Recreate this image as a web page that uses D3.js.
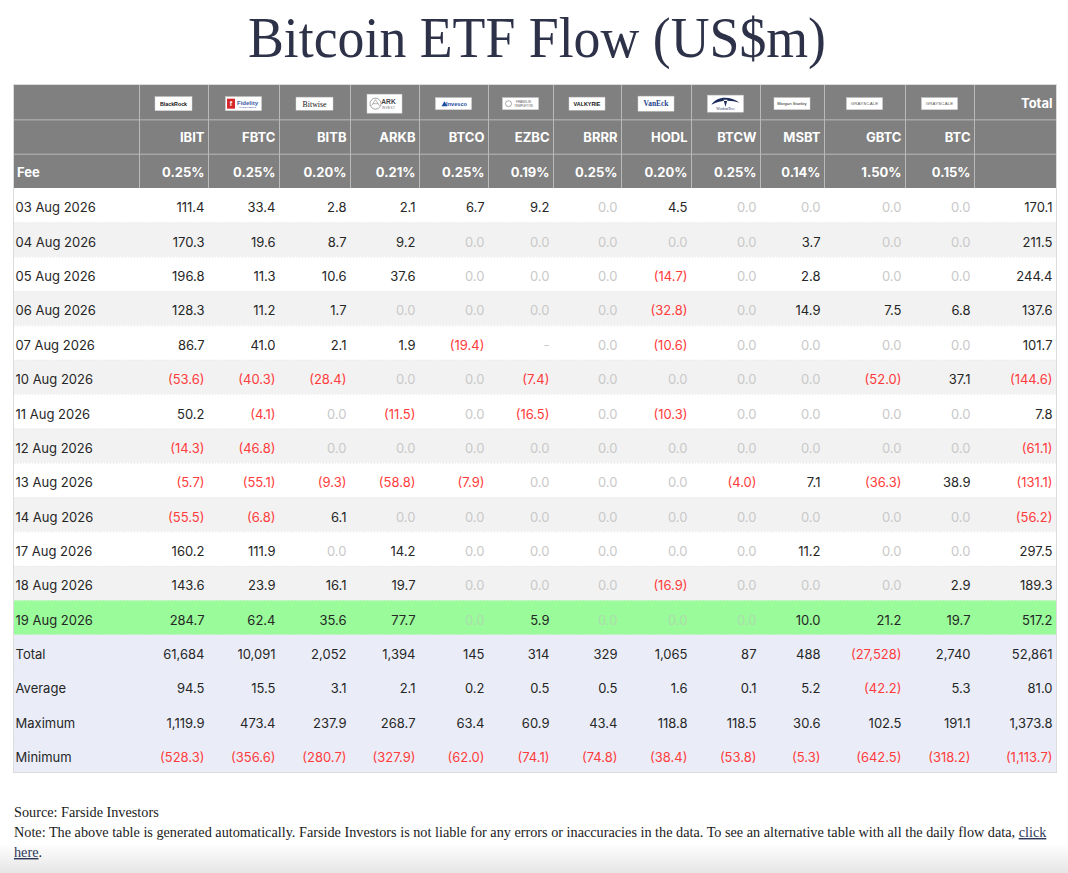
<!DOCTYPE html>
<html>
<head>
<meta charset="utf-8">
<script src="https://cdn.jsdelivr.net/npm/d3@7"></script>
<style>
  body { margin: 0; background: #fff; }
  svg { display: block; }
</style>
</head>
<body>
<svg id="chart" width="1068" height="873"></svg>
<script>
const tickers = ["IBIT", "FBTC", "BITB", "ARKB", "BTCO", "EZBC", "BRRR", "HODL", "BTCW", "MSBT", "GBTC", "BTC"];
const issuers = ["BlackRock", "Fidelity", "Bitwise", "ARK Invest", "Invesco", "Franklin Templeton",
                 "Valkyrie", "VanEck", "WisdomTree", "Morgan Stanley", "Grayscale", "Grayscale"];
const fees = ["0.25%", "0.25%", "0.20%", "0.21%", "0.25%", "0.19%", "0.25%", "0.20%", "0.25%", "0.14%", "1.50%", "0.15%"];

const dates = ["03 Aug 2026", "04 Aug 2026", "05 Aug 2026", "06 Aug 2026", "07 Aug 2026", "10 Aug 2026",
               "11 Aug 2026", "12 Aug 2026", "13 Aug 2026", "14 Aug 2026", "17 Aug 2026", "18 Aug 2026", "19 Aug 2026"];

// one row per date, one value per ticker; null = no figure ("-")
const flows = [
  [111.4, 33.4, 2.8, 2.1, 6.7, 9.2, 0, 4.5, 0, 0, 0, 0],
  [170.3, 19.6, 8.7, 9.2, 0, 0, 0, 0, 0, 3.7, 0, 0],
  [196.8, 11.3, 10.6, 37.6, 0, 0, 0, -14.7, 0, 2.8, 0, 0],
  [128.3, 11.2, 1.7, 0, 0, 0, 0, -32.8, 0, 14.9, 7.5, 6.8],
  [86.7, 41.0, 2.1, 1.9, -19.4, null, 0, -10.6, 0, 0, 0, 0],
  [-53.6, -40.3, -28.4, 0, 0, -7.4, 0, 0, 0, 0, -52.0, 37.1],
  [50.2, -4.1, 0, -11.5, 0, -16.5, 0, -10.3, 0, 0, 0, 0],
  [-14.3, -46.8, 0, 0, 0, 0, 0, 0, 0, 0, 0, 0],
  [-5.7, -55.1, -9.3, -58.8, -7.9, 0, 0, 0, -4.0, 7.1, -36.3, 38.9],
  [-55.5, -6.8, 6.1, 0, 0, 0, 0, 0, 0, 0, 0, 0],
  [160.2, 111.9, 0, 14.2, 0, 0, 0, 0, 0, 11.2, 0, 0],
  [143.6, 23.9, 16.1, 19.7, 0, 0, 0, -16.9, 0, 0, 0, 2.9],
  [284.7, 62.4, 35.6, 77.7, 0, 5.9, 0, 0, 0, 10.0, 21.2, 19.7]
];
const dailyTotals = [170.1, 211.5, 244.4, 137.6, 101.7, -144.6, 7.8, -61.1, -131.1, -56.2, 297.5, 189.3, 517.2];
const highlightDate = "19 Aug 2026";

// summary rows, last value is the Total column
const summaryLabels = ["Total", "Average", "Maximum", "Minimum"];
const totalRow   = [61684, 10091, 2052, 1394, 145, 314, 329, 1065, 87, 488, -27528, 2740, 52861];
const averageRow = [94.5, 15.5, 3.1, 2.1, 0.2, 0.5, 0.5, 1.6, 0.1, 5.2, -42.2, 5.3, 81.0];
const maximumRow = [1119.9, 473.4, 237.9, 268.7, 63.4, 60.9, 43.4, 118.8, 118.5, 30.6, 102.5, 191.1, 1373.8];
const minimumRow = [-528.3, -356.6, -280.7, -327.9, -62.0, -74.1, -74.8, -38.4, -53.8, -5.3, -642.5, -318.2, -1113.7];

// ---- layout ----
const W = 1068;
const tableLeft = 14, tableTop = 85, tableBottom = 772;
const colWidths = [125, 69, 71, 71, 69, 69, 65, 68, 70, 69, 64, 81, 69, 82];
const colKeys = ["label", ...tickers, "Total"];
const lefts = colWidths.map((w, i) => tableLeft + d3.sum(colWidths.slice(0, i)));
const xLeft = d3.scaleOrdinal(colKeys, lefts);
const xWidth = d3.scaleOrdinal(colKeys, colWidths);
const xRight = k => xLeft(k) + xWidth(k);
const tableRight = xRight("Total");

const rowKeys = ["logo", "ticker", "fee", ...dates, ...summaryLabels.map(s => "sum:" + s)];
const y = d3.scaleBand(rowKeys, [tableTop, tableBottom]);
const yMid = k => y(k) + y.bandwidth() / 2;

const FONT = "Inter, 'Helvetica Neue', Arial, sans-serif";
const HEAD_BG = "#808080", HEAD_LINE = "#b9b9b9";
const DARK = "#262626", ZERO = "#c9c9c9", ZERO_HI = "#aedcae", RED = "#ff3b3b";

const fmt1 = d3.format(",.1f"), fmt0 = d3.format(",.0f");
const cellText = (v, f) => v == null ? "-" : (v < 0 ? `(${f(-v)})` : f(v));
const cellColor = (v, hi) => (v == null || v === 0) ? (hi ? ZERO_HI : ZERO) : (v < 0 ? RED : DARK);

const svg = d3.select("#chart");

// ---- title ----
svg.append("text")
  .attr("x", 248).attr("y", 57)
  .attr("font-family", "'Liberation Serif', 'Times New Roman', serif")
  .attr("font-size", 57)
  .attr("textLength", 578).attr("lengthAdjust", "spacingAndGlyphs")
  .attr("fill", "#2e3249")
  .text("Bitcoin ETF Flow (US$m)");

// ---- row backgrounds ----
const dataRows = dates.map((d, i) => ({
  key: d, label: d, values: [...flows[i], dailyTotals[i]], fmt: fmt1,
  bg: d === highlightDate ? "#99fb99" : (i % 2 === 0 ? "#ffffff" : "#f2f2f2"),
  hi: d === highlightDate
}));
const sumRows = [totalRow, averageRow, maximumRow, minimumRow].map((vals, i) => ({
  key: "sum:" + summaryLabels[i], label: summaryLabels[i], values: vals,
  fmt: i === 0 ? fmt0 : fmt1, bg: "#eaedf8", hi: false
}));
const bodyRows = [...dataRows, ...sumRows];

svg.append("rect")
  .attr("x", tableLeft).attr("y", y("logo"))
  .attr("width", tableRight - tableLeft).attr("height", y.bandwidth() * 3)
  .attr("fill", HEAD_BG);

svg.append("g").selectAll("rect")
  .data(bodyRows)
  .join("rect")
  .attr("x", tableLeft).attr("y", d => y(d.key))
  .attr("width", tableRight - tableLeft).attr("height", y.bandwidth() + 0.5)
  .attr("fill", d => d.bg);

// header grid lines
const grid = svg.append("g").attr("stroke", HEAD_LINE).attr("stroke-width", 1);
grid.selectAll("line.v")
  .data(colKeys.slice(1))
  .join("line").attr("class", "v")
  .attr("x1", d => xLeft(d) + 0.5).attr("x2", d => xLeft(d) + 0.5)
  .attr("y1", y("logo")).attr("y2", y("fee") + y.bandwidth());
grid.selectAll("line.h")
  .data(["ticker", "fee"])
  .join("line").attr("class", "h")
  .attr("x1", tableLeft).attr("x2", tableRight)
  .attr("y1", d => y(d) + 0.5).attr("y2", d => y(d) + 0.5);

// faint separators between body rows
svg.append("g").selectAll("line")
  .data(bodyRows.slice(1))
  .join("line")
  .attr("x1", tableLeft).attr("x2", tableRight)
  .attr("y1", d => y(d.key) + 0.5).attr("y2", d => y(d.key) + 0.5)
  .attr("stroke", "#e9e9e9").attr("stroke-dasharray", "1,2");

// outer border
svg.append("rect")
  .attr("x", tableLeft - 0.5).attr("y", tableTop - 0.5)
  .attr("width", tableRight - tableLeft + 1).attr("height", tableBottom - tableTop + 1)
  .attr("fill", "none").attr("stroke", "#dcdcdc");

// ---- header text ----
const head = svg.append("g")
  .attr("font-family", FONT).attr("font-size", 13).attr("font-weight", 700).attr("fill", "#fff");

head.selectAll("text.tk")
  .data(tickers)
  .join("text").attr("class", "tk")
  .attr("x", d => xRight(d) - 3.5).attr("y", yMid("ticker") + 1)
  .attr("dy", "0.36em").attr("text-anchor", "end")
  .text(d => d);

head.selectAll("text.fee")
  .data(fees)
  .join("text").attr("class", "fee")
  .attr("x", (d, i) => xRight(tickers[i]) - 3.5).attr("y", yMid("fee") + 1)
  .attr("dy", "0.36em").attr("text-anchor", "end")
  .text(d => d);

head.append("text")
  .attr("x", xLeft("label") + 3).attr("y", yMid("fee") + 1).attr("dy", "0.36em")
  .text("Fee");

head.append("text")
  .attr("x", xRight("Total") - 3.5).attr("y", yMid("logo") + 1.5).attr("dy", "0.36em")
  .attr("text-anchor", "end")
  .text("Total");

// ---- issuer logos (simplified badges) ----
function box(g, w, h) {
  g.append("rect").attr("x", -w / 2).attr("y", -h / 2).attr("width", w).attr("height", h)
    .attr("fill", "#fff").attr("stroke", "#d0d0d0").attr("stroke-width", 0.5);
}
function word(g, s, x, yy, o) {
  return g.append("text").attr("x", x).attr("y", yy).attr("dy", "0.35em")
    .attr("text-anchor", o.anchor || "middle")
    .attr("font-family", o.family || "Arial, sans-serif")
    .attr("font-size", o.size).attr("font-weight", o.weight || 400)
    .attr("letter-spacing", o.ls || 0)
    .attr("fill", o.fill || "#111").text(s);
}
const logoDraw = {
  "BlackRock": g => { box(g, 37, 14); word(g, "BlackRock", 0, 0, { size: 5.3, weight: 700 }); },
  "Fidelity": g => {
    box(g, 36, 14);
    g.append("rect").attr("x", -16.5).attr("y", -5).attr("width", 8).attr("height", 10).attr("fill", "#d4282c");
    word(g, "f", -12.5, 0, { size: 7, weight: 700, fill: "#fff" });
    word(g, "Fidelity", 4, -1.2, { size: 6, weight: 700, fill: "#3a5aa6" });
    word(g, "INVESTMENTS", 4, 3.6, { size: 2.4, fill: "#3a5aa6" });
  },
  "Bitwise": g => { box(g, 37, 13); word(g, "Bitwise", 0, 0.3, { size: 7.8, family: "'Liberation Serif', serif" }); },
  "ARK Invest": g => {
    box(g, 35, 19);
    g.append("circle").attr("cx", -9).attr("cy", 0).attr("r", 5.5).attr("fill", "none").attr("stroke", "#666").attr("stroke-width", 0.6);
    g.append("path").attr("d", "M-13,2 L-9,-4 L-5,2 M-11.5,0 L-6.5,0").attr("fill", "none").attr("stroke", "#666").attr("stroke-width", 0.5);
    word(g, "ARK", 4, -2, { size: 6.6, weight: 700, fill: "#444" });
    word(g, "INVEST", 4, 3.8, { size: 3, ls: 0.4, fill: "#666" });
  },
  "Invesco": g => {
    box(g, 36, 12);
    g.append("path").attr("d", "M-12,2.5 L-9,-2.5 L-6,2.5 Z").attr("fill", "#1a4ea0");
    word(g, "Invesco", 3, 0, { size: 5.6, weight: 700, fill: "#1a4ea0" });
  },
  "Franklin Templeton": g => {
    box(g, 36, 12);
    g.append("circle").attr("cx", -12).attr("cy", 0).attr("r", 3).attr("fill", "none").attr("stroke", "#555").attr("stroke-width", 0.5);
    word(g, "FRANKLIN", 3, -1.7, { size: 3, fill: "#555" });
    word(g, "TEMPLETON", 3, 1.9, { size: 3, fill: "#555" });
  },
  "Valkyrie": g => { box(g, 36, 13); word(g, "VALKYRIE", 0, 0, { size: 5.4, weight: 700, fill: "#111" }); },
  "VanEck": g => { box(g, 36, 15); word(g, "VanEck", 0, 0, { size: 7.4, weight: 700, family: "'Liberation Serif', serif", fill: "#1d3f8e" }); },
  "WisdomTree": g => {
    box(g, 36, 17);
    g.append("path").attr("d", "M-14,1 C-9,-8 5,-8 14,-1 C6,-4 -6,-4 -14,1 Z M-2,-4 L0,3 L2,-4 Z")
      .attr("fill", "#1c2a5a");
    word(g, "WisdomTree", 0, 5.2, { size: 3.6, family: "'Liberation Serif', serif", fill: "#1c2a5a" });
  },
  "Morgan Stanley": g => { box(g, 36, 12); word(g, "Morgan Stanley", 0, 0, { size: 4.2, fill: "#222" }); },
  "Grayscale": g => { box(g, 36, 12); word(g, "GRAYSCALE", 0, 0, { size: 4.3, ls: 0.2, fill: "#555" }); }
};

svg.append("g").selectAll("g")
  .data(tickers)
  .join("g")
  .attr("transform", d => `translate(${xLeft(d) + xWidth(d) / 2},${yMid("logo") + 1.5})`)
  .each(function (d, i) { logoDraw[issuers[i]](d3.select(this)); });

// ---- body text ----
const body = svg.append("g").attr("font-family", FONT).attr("font-size", 13);

const rowG = body.selectAll("g.row")
  .data(bodyRows)
  .join("g").attr("class", "row")
  .attr("transform", d => `translate(0,${yMid(d.key) + 2.5})`);

rowG.append("text")
  .attr("x", xLeft("label") + 1.5).attr("dy", "0.36em")
  .attr("fill", DARK)
  .text(d => d.label);

rowG.selectAll("text.v")
  .data(d => d.values.map((v, i) => ({ v, col: colKeys[i + 1], fmt: d.fmt, hi: d.hi })))
  .join("text").attr("class", "v")
  .attr("x", c => xRight(c.col) - 3.5).attr("dy", "0.36em")
  .attr("text-anchor", "end")
  .attr("fill", c => cellColor(c.v, c.hi))
  .text(c => cellText(c.v, c.fmt));

// ---- footer ----
const foot = svg.append("g")
  .attr("font-family", "'Liberation Serif', 'Times New Roman', serif")
  .attr("font-size", 14).attr("fill", "#1a1a1a");

foot.append("text").attr("x", 14).attr("y", 817).text("Source: Farside Investors");

const note = foot.append("text").attr("x", 14).attr("y", 837);
note.append("tspan").text("Note: The above table is generated automatically. Farside Investors is not liable for any errors or inaccuracies in the data. To see an alternative table with all the daily flow data, ");
note.append("tspan").attr("fill", "#2e3a5c").style("text-decoration", "underline").text("click");
// squeeze the line to the width the reference uses
const natural = note.node().getComputedTextLength();
const fitSize = 14 * (1047 - 14) / natural;
foot.attr("font-size", fitSize);

const here = foot.append("text").attr("x", 14).attr("y", 857);
here.append("tspan").attr("fill", "#2e3a5c").style("text-decoration", "underline").text("here");
here.append("tspan").text(".");

// soft shade at the bottom edge
const grad = svg.append("defs").append("linearGradient")
  .attr("id", "shade").attr("x1", 0).attr("x2", 0).attr("y1", 0).attr("y2", 1);
grad.append("stop").attr("offset", 0).attr("stop-color", "#000").attr("stop-opacity", 0);
grad.append("stop").attr("offset", 1).attr("stop-color", "#000").attr("stop-opacity", 0.1);
svg.append("rect").attr("x", 0).attr("y", 843).attr("width", W).attr("height", 30).attr("fill", "url(#shade)");
</script>
</body>
</html>
